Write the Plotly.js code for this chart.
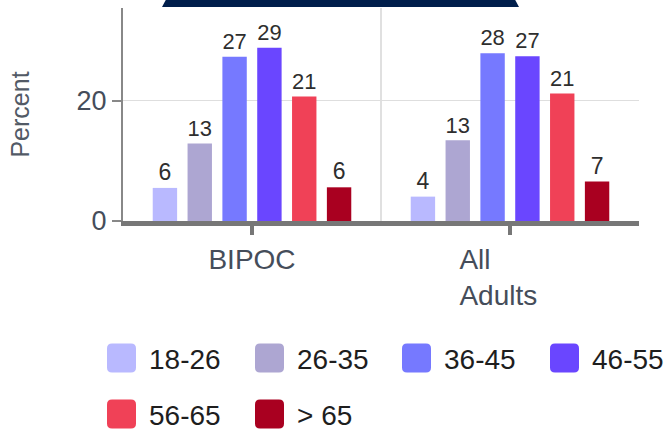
<!DOCTYPE html>
<html>
<head>
<meta charset="utf-8">
<script src="https://cdn.plot.ly/plotly-3.0.1.min.js"></script>
<style>html,body{margin:0;padding:0;background:#fff;}#chart{width:665px;height:432px;}</style>
</head>
<body>
<div id="chart"></div>
<script>
// ---- data ----
const categories = ['BIPOC', 'All Adults'];
const tickLabels = ['BIPOC', 'All\u00A0\u00A0\u00A0\u00A0\u00A0\u00A0\u00A0\u00A0\u00A0<br>Adults\u00A0\u00A0\u00A0'];
const seriesNames = ['18-26', '26-35', '36-45', '46-55', '56-65', '> 65'];
const seriesColors = ['#b9b9ff', '#ada6d2', '#7679ff', '#6a46ff', '#f04157', '#a90020'];
const age18_26 = [5.5, 4.05];
const age26_35 = [12.9, 13.4];
const age36_45 = [27.3, 27.9];
const age46_55 = [28.8, 27.4];
const age56_65 = [20.7, 21.2];
const age65plus = [5.6, 6.55];
const seriesValues = [age18_26, age26_35, age36_45, age46_55, age56_65, age65plus];

// ---- layout geometry (pixels) ----
const W = 665, H = 432;
const M = {l: 123, r: 26, t: 8, b: 211};
const plotW = W - M.l - M.r, plotH = H - M.t - M.b;
const px2paperX = px => (px - M.l) / plotW;
const px2paperY = py => (H - M.b - py) / plotH;

const font = '"Liberation Sans", Arial, Helvetica, sans-serif';

const traces = seriesNames.map((name, i) => ({
  type: 'bar',
  name: name,
  x: categories,
  y: seriesValues[i],
  marker: {color: seriesColors[i]},
  texttemplate: '%{y:.0f}',
  textposition: 'outside',
  textfont: {family: font, size: 23, color: '#2e2e2e'},
  cliponaxis: false,
  hoverinfo: 'x+y+name'
}));

// custom legend
const legendCols = [107, 255, 402, 550];
const legendRows = [358, 414];
const sw = 29, rr = 5, h = sw / 2;
const swPath = `M ${-h+rr},${-h} H ${h-rr} Q ${h},${-h} ${h},${-h+rr} V ${h-rr} Q ${h},${h} ${h-rr},${h} H ${-h+rr} Q ${-h},${h} ${-h},${h-rr} V ${-h+rr} Q ${-h},${-h} ${-h+rr},${-h} Z`;
const shapes = [];
const annotations = [];
seriesNames.forEach((name, i) => {
  const col = legendCols[i % 4], row = legendRows[Math.floor(i / 4)];
  shapes.push({
    type: 'path', xref: 'paper', yref: 'paper',
    xsizemode: 'pixel', ysizemode: 'pixel',
    xanchor: px2paperX(col + h), yanchor: px2paperY(row),
    path: swPath, fillcolor: seriesColors[i], line: {width: 0}
  });
  annotations.push({
    xref: 'paper', yref: 'paper',
    x: px2paperX(col + 40), y: px2paperY(row + 1),
    xanchor: 'left', yanchor: 'middle', showarrow: false,
    text: name, font: {family: font, size: 28, color: '#1e1e1e'}
  });
});

// divider between categories
shapes.push({type: 'line', xref: 'x', yref: 'paper', x0: 0.5, x1: 0.5, y0: 0, y1: 1,
  line: {color: '#d6d6d6', width: 1.5}, layer: 'below'});
// navy banner at top
shapes.push({type: 'path', xref: 'paper', yref: 'paper',
  path: `M ${px2paperX(162)},${px2paperY(7)} L ${px2paperX(169)},${px2paperY(-6)} L ${px2paperX(512)},${px2paperY(-6)} L ${px2paperX(519)},${px2paperY(7)} Z`,
  fillcolor: '#001e4b', line: {width: 0}});

const layout = {
  width: W, height: H,
  margin: M,
  paper_bgcolor: '#ffffff', plot_bgcolor: '#ffffff',
  showlegend: false,
  barmode: 'group',
  bargap: 0.19,
  bargroupgap: 0.3,
  font: {family: font},
  xaxis: {
    type: 'category',
    tickvals: categories, ticktext: tickLabels,
    showgrid: false, zeroline: false,
    showline: true, linecolor: '#777777', linewidth: 5,
    ticks: 'outside', ticklen: 9, tickwidth: 4, tickcolor: '#777777',
    tickfont: {family: font, size: 28, color: '#454d5a'},
    fixedrange: true
  },
  yaxis: {
    range: [0, 35.4],
    tickvals: [0, 20],
    showgrid: true, gridcolor: '#dedede', gridwidth: 1.5,
    zeroline: false,
    showline: true, linecolor: '#888888', linewidth: 2,
    ticks: 'outside', ticklen: 9, tickwidth: 2, tickcolor: '#888888',
    tickfont: {family: font, size: 27, color: '#454d5a'},
    title: {text: 'Percent', font: {family: font, size: 25, color: '#525a66'}, standoff: 40},
    fixedrange: true
  },
  shapes: shapes,
  annotations: annotations
};

Plotly.newPlot('chart', traces, layout, {displayModeBar: false, staticPlot: true});
</script>
</body>
</html>
